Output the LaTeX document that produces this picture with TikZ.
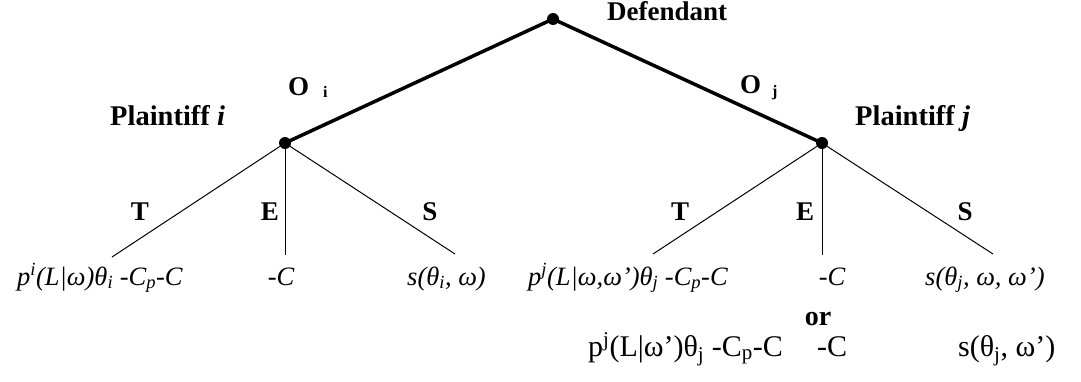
\documentclass[tikz,border=0pt]{standalone}
\usepackage{fontspec}
\setmainfont{Liberation Serif}
\newcommand{\sbs}[1]{\textsubscript{#1}}
\newcommand{\sps}[1]{\textsuperscript{#1}}
\begin{document}
\begin{tikzpicture}[x=1pt,y=-1pt,
  dot/.style={circle,fill=black,inner sep=0pt,minimum size=12pt},
  heavy/.style={line width=3.5pt},
  light/.style={line width=1pt},
  lbl/.style={font=\fontsize{27}{30}\selectfont\bfseries, inner sep=0pt},
  pay/.style={font=\fontsize{26.5}{30}\selectfont\itshape, inner sep=0pt},
  payup/.style={font=\fontsize{30}{34}\selectfont, inner sep=0pt}]
\useasboundingbox (0,0) rectangle (1081,381);
% decision nodes
\node[dot] (D) at (553,19) {};
\node[dot] (Pi) at (285,143) {};
\node[dot] (Pj) at (822,143) {};
% leaves
\coordinate (Ti) at (112,257);
\coordinate (Ei) at (285,255);
\coordinate (Si) at (455,254);
\coordinate (Tj) at (653,254);
\coordinate (Ej) at (822,255);
\coordinate (Sj) at (993,254);
% edges
\draw[heavy] (D.center) -- (Pi.center);
\draw[heavy] (D.center) -- (Pj.center);
\draw[light] (Pi) -- (Ti);
\draw[light] (Pi) -- (Ei);
\draw[light] (Pi) -- (Si);
\draw[light] (Pj) -- (Tj);
\draw[light] (Pj) -- (Ej);
\draw[light] (Pj) -- (Sj);
% player labels
\node[lbl,anchor=base west] (lD) at (607,20) {Defendant};
\node[lbl,anchor=base west,font=\fontsize{28.5}{30}\selectfont\bfseries] (lPi) at (110,125) {Plaintiff \textit{i}};
\node[lbl,anchor=base west,font=\fontsize{28.5}{30}\selectfont\bfseries] (lPj) at (855,125) {Plaintiff \textit{j}};
\node[lbl,anchor=base west] (lOi) at (288,95) {O\hspace{14pt}\raisebox{-2pt}{\fontsize{16}{16}\selectfont i}};
\node[lbl,anchor=base west] (lOj) at (740,93) {O\hspace{11pt}\raisebox{-3pt}{\fontsize{16}{16}\selectfont j}};
% action labels
\node[lbl,anchor=base] (aTi) at (140,220) {T};
\node[lbl,anchor=base] (aEi) at (270,220) {E};
\node[lbl,anchor=base] (aSi) at (430,220) {S};
\node[lbl,anchor=base] (aTj) at (680,220) {T};
\node[lbl,anchor=base] (aEj) at (805,220) {E};
\node[lbl,anchor=base] (aSj) at (965,220) {S};
% payoffs
\node[pay,anchor=base west] (p1) at (17,285) {p\sps{i}(L|ω)θ\sbs{i} -C\sbs{p}-C};
\node[pay,anchor=base] (p2) at (281,285) {-C};
\node[pay,anchor=base west] (p3) at (407,285) {s(θ\sbs{i}, ω)};
\node[pay,anchor=base west] (p4) at (528,285) {p\sps{j}(L|ω,ω')θ\sbs{j} -C\sbs{p}-C};
\node[pay,anchor=base] (p5) at (832,285) {-C};
\node[pay,anchor=base west] (p6) at (925,285) {s(θ\sbs{j}, ω, ω')};
\node[payup,anchor=base,font=\fontsize{28}{30}\selectfont\bfseries] (or) at (818,325) {or};
\node[payup,anchor=base west] (q1) at (588,356) {p\sps{j}(L|ω')θ\sbs{j} -C\sbs{p}-C};
\node[payup,anchor=base] (q2) at (832,356) {-C};
\node[payup,anchor=base west] (q3) at (958,356) {s(θ\sbs{j}, ω')};
\end{tikzpicture}
\end{document}
